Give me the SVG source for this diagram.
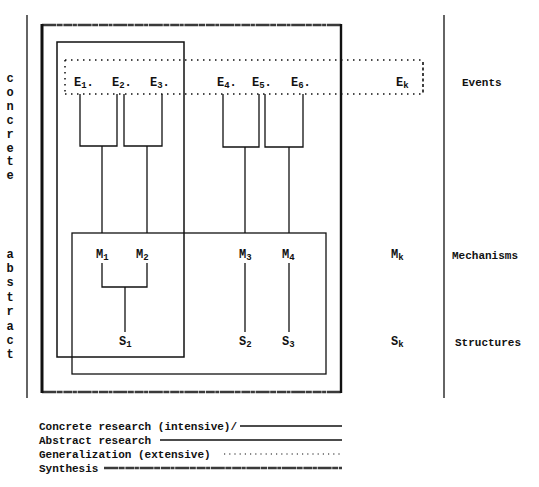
<svg xmlns="http://www.w3.org/2000/svg" width="539" height="487" viewBox="0 0 539 487">
<style>
  text { font-family: "Liberation Mono", "DejaVu Sans Mono", monospace; font-weight: bold; fill: #111; }
  .lbl { font-size: 11px; }
  .nd { font-size: 12px; }
  .sub { font-size: 9px; }
  .side { font-size: 12px; text-anchor: middle; }
  .ln { fill: none; stroke: #111; stroke-width: 1.3; }
  .conc { fill: none; stroke: #111; stroke-width: 1.5; }
  .dot { fill: none; stroke: #111; stroke-width: 1.5; stroke-dasharray: 1.5 4.5; }
  .dash { fill: none; stroke: #111; stroke-width: 1.6; stroke-dasharray: 3 2.5; }
  .synth { fill: none; stroke: #3a3a3a; stroke-width: 2.4; stroke-dasharray: 14 0.6 6 0.8 9 0.5 4 0.7; }
  .thick { fill: none; stroke: #111; stroke-width: 3; }
</style>

<!-- axis lines -->
<g id="left-axis">
  <line class="ln" x1="27" y1="15" x2="27" y2="398"/>
  <text class="side" x="10" y="82">c</text>
  <text class="side" x="10" y="96">o</text>
  <text class="side" x="10" y="110">n</text>
  <text class="side" x="10" y="124">c</text>
  <text class="side" x="10" y="138">r</text>
  <text class="side" x="10" y="152">e</text>
  <text class="side" x="10" y="165">t</text>
  <text class="side" x="10" y="179">e</text>
  <text class="side" x="10" y="258">a</text>
  <text class="side" x="10" y="272">b</text>
  <text class="side" x="10" y="286">s</text>
  <text class="side" x="10" y="301">t</text>
  <text class="side" x="10" y="315">r</text>
  <text class="side" x="10" y="330">a</text>
  <text class="side" x="10" y="344">c</text>
  <text class="side" x="10" y="358">t</text>
</g>
<g id="right-axis">
  <line class="ln" x1="444" y1="15" x2="444" y2="398"/>
  <text class="lbl" x="462" y="86">Events</text>
  <text class="lbl" x="452" y="259">Mechanisms</text>
  <text class="lbl" x="455" y="346">Structures</text>
</g>

<!-- research boxes -->
<g id="synthesis-box">
  <line class="synth" x1="42" y1="25" x2="341" y2="25"/>
  <line class="synth" x1="42" y1="392" x2="341" y2="392"/>
  <line class="thick" x1="42" y1="24" x2="42" y2="393"/>
  <line class="thick" x1="341" y1="24" x2="341" y2="393" style="stroke-width:2.4"/>
</g>
<g id="concrete-box">
  <rect class="conc" x="57" y="42" width="127" height="315"/>
</g>
<g id="abstract-box">
  <rect class="ln" x="72" y="233" width="254" height="141"/>
</g>
<g id="events-box">
  <line class="dot" x1="65" y1="60" x2="423" y2="60"/>
  <line class="dot" x1="65" y1="94" x2="423" y2="94"/>
  <line class="dot" x1="65" y1="60" x2="65" y2="94"/>
  <line class="dash" x1="423" y1="62" x2="423" y2="94"/>
</g>

<!-- nodes -->
<g id="E1"><text class="nd" x="74" y="86">E<tspan class="sub" dy="2">1</tspan><tspan dy="-2">.</tspan></text></g>
<g id="E2"><text class="nd" x="112" y="86">E<tspan class="sub" dy="2">2</tspan><tspan dy="-2">.</tspan></text></g>
<g id="E3"><text class="nd" x="150" y="86">E<tspan class="sub" dy="2">3</tspan><tspan dy="-2">.</tspan></text></g>
<g id="E4"><text class="nd" x="217" y="86">E<tspan class="sub" dy="2">4</tspan><tspan dy="-2">.</tspan></text></g>
<g id="E5"><text class="nd" x="252" y="86">E<tspan class="sub" dy="2">5</tspan><tspan dy="-2">.</tspan></text></g>
<g id="E6"><text class="nd" x="291" y="86">E<tspan class="sub" dy="2">6</tspan><tspan dy="-2">.</tspan></text></g>
<g id="Ek"><text class="nd" x="396" y="86">E<tspan class="sub" dy="2">k</tspan></text></g>

<g id="M1"><text class="nd" x="96" y="258">M<tspan class="sub" dy="2">1</tspan></text></g>
<g id="M2"><text class="nd" x="136" y="258">M<tspan class="sub" dy="2">2</tspan></text></g>
<g id="M3"><text class="nd" x="239" y="258">M<tspan class="sub" dy="2">3</tspan></text></g>
<g id="M4"><text class="nd" x="282" y="258">M<tspan class="sub" dy="2">4</tspan></text></g>
<g id="Mk"><text class="nd" x="391" y="258">M<tspan class="sub" dy="2">k</tspan></text></g>

<g id="S1"><text class="nd" x="119" y="345">S<tspan class="sub" dy="2">1</tspan></text></g>
<g id="S2"><text class="nd" x="239" y="345">S<tspan class="sub" dy="2">2</tspan></text></g>
<g id="S3"><text class="nd" x="282" y="345">S<tspan class="sub" dy="2">3</tspan></text></g>
<g id="Sk"><text class="nd" x="391" y="345">S<tspan class="sub" dy="2">k</tspan></text></g>

<!-- connectors -->
<g id="connectors">
  <polyline class="ln" points="80,94 80,146 117,146 117,94"/>
  <polyline class="ln" points="124,94 124,146 162,146 162,94"/>
  <polyline class="ln" points="223,94 223,147 259,147 259,94"/>
  <polyline class="ln" points="265,94 265,147 303,147 303,94"/>
  <line class="ln" x1="102" y1="146" x2="102" y2="233"/>
  <line class="ln" x1="147" y1="146" x2="147" y2="233"/>
  <line class="ln" x1="245" y1="147" x2="245" y2="233"/>
  <line class="ln" x1="289" y1="147" x2="289" y2="233"/>
  <polyline class="ln" points="102,263 102,287 147,287 147,263"/>
  <line class="ln" x1="125" y1="287" x2="125" y2="332"/>
  <line class="ln" x1="245" y1="263" x2="245" y2="332"/>
  <line class="ln" x1="289" y1="263" x2="289" y2="332"/>
</g>

<!-- legend -->
<g id="legend">
  <text class="lbl" x="39" y="430">Concrete research (intensive)/</text>
  <line class="ln" x1="240" y1="426" x2="342" y2="426"/>
  <text class="lbl" x="39" y="444">Abstract research</text>
  <line class="ln" x1="160" y1="440" x2="342" y2="440"/>
  <text class="lbl" x="39" y="458">Generalization (extensive)</text>
  <line class="dot" x1="224" y1="454" x2="342" y2="454" style="stroke-width:1.2;stroke-dasharray:1.2 4"/>
  <text class="lbl" x="39" y="472">Synthesis</text>
  <line class="synth" x1="104" y1="468" x2="342" y2="468"/>
</g>
</svg>
